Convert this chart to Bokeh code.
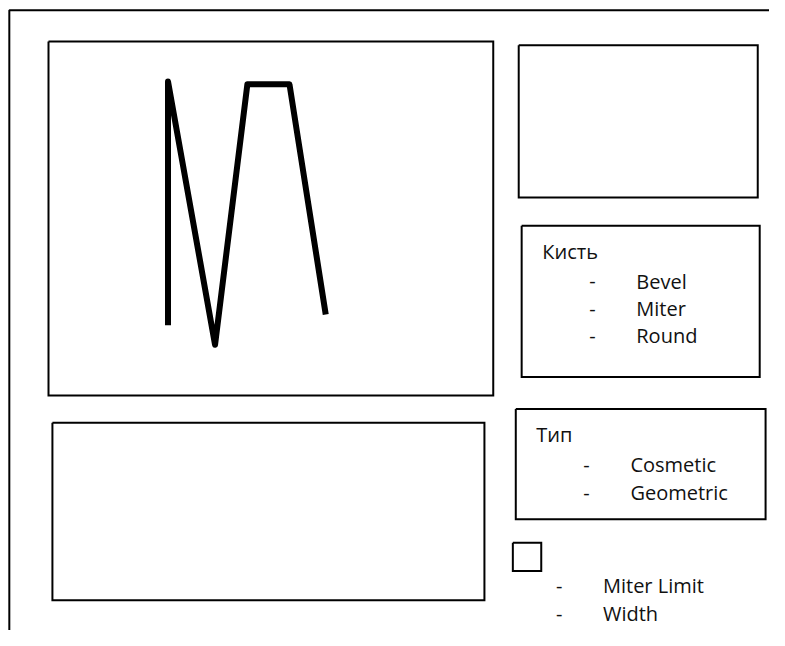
from bokeh.plotting import figure
from bokeh.models import Range1d
from bokeh.core.properties import value
from bokeh.embed import file_html
from bokeh.resources import INLINE

# ---- data ----
stroke_x = [171, 171, 219, 252, 295, 332]
stroke_y = [333, 83, 353, 86, 86, 322]

brush_title = "Кисть"
brush_items = ["Bevel", "Miter", "Round"]
type_title = "Тип"
type_items = ["Cosmetic", "Geometric"]
option_items = ["Miter Limit", "Width"]

W, H = 769, 630
p = figure(width=W, height=H, output_backend="svg", toolbar_location=None,
           x_range=Range1d(0, 785), y_range=Range1d(646, 0),
           min_border=0, outline_line_color=None)
p.axis.visible = False
p.grid.visible = False
p.background_fill_color = "white"
p.border_fill_color = "white"

FONT = value("Open Sans")
TXT = "#111111"
FS = "20px"

# outer frame (extends past the page)
p.line([9, 9, 900], [900, 10, 10], line_color="black", line_width=2)

# boxes: (left, top, right, bottom)
boxes = [
    (49, 42, 503, 405),
    (529, 46, 773, 202),
    (532, 231, 775, 386),
    (526, 419, 781, 532),
    (53, 433, 494, 615),
    (523, 556, 552, 585),
]
for l, t, r, b in boxes:
    p.line([l, r, r, l, l], [t, t, b, b, t], line_color="black", line_width=2,
           line_join="miter")

# stroke drawing
p.line(stroke_x, stroke_y, line_color="black", line_width=6, line_join="round")

def txt(xs, ys, labels):
    p.text(x=xs, y=ys, text=labels, text_font=FONT, text_font_size=FS,
           text_color=TXT, text_baseline="middle", text_align="left")

# Кисть box
txt([553], [257], [brush_title])
brush_y = [288, 316, 344]
txt([601] * len(brush_items), brush_y, ["-"] * len(brush_items))
txt([649] * len(brush_items), brush_y, brush_items)

# Тип box
txt([547], [445], [type_title])
type_y = [476, 505]
txt([595] * len(type_items), type_y, ["-"] * len(type_items))
txt([643] * len(type_items), type_y, type_items)

# options below checkbox
opt_y = [600, 629]
txt([567] * len(option_items), opt_y, ["-"] * len(option_items))
txt([615] * len(option_items), opt_y, option_items)

open("out.html", "w").write(file_html(p, INLINE))
